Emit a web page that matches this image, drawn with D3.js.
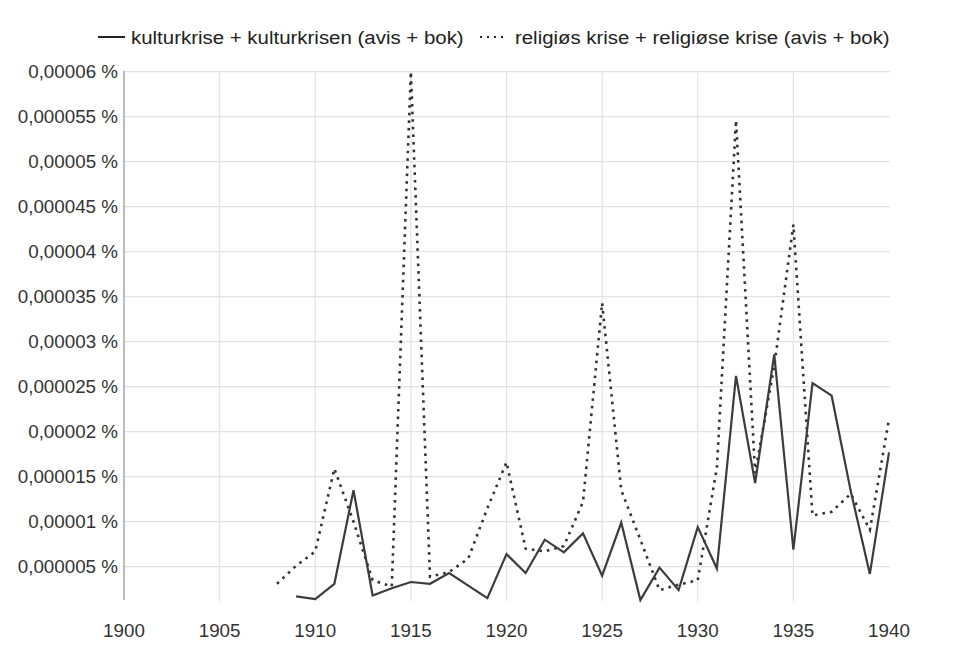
<!DOCTYPE html>
<html>
<head>
<meta charset="utf-8">
<script src="https://cdn.jsdelivr.net/npm/d3@7"></script>
<style>
  html, body { margin: 0; padding: 0; background: #fff; }
  svg { display: block; font-family: "Liberation Sans", Arial, Helvetica, sans-serif; }
</style>
</head>
<body>
<svg id="chart" width="960" height="656"></svg>
<script>
// ---- data (values in percent) ----
const kulturYears = d3.range(1909, 1941);
const kulturValues = [
  0.0000017, 0.0000014, 0.0000031, 0.0000135, 0.0000018, 0.0000026, 0.0000033, 0.0000031,
  0.0000043, 0.0000029, 0.0000015, 0.0000064, 0.0000043, 0.0000080, 0.0000066, 0.0000087,
  0.0000040, 0.0000099, 0.0000013, 0.0000049, 0.0000024, 0.0000094, 0.0000048, 0.0000262,
  0.0000143, 0.0000286, 0.0000069, 0.0000254, 0.0000240, 0.0000134, 0.0000042, 0.0000177
];
const religiosYears = d3.range(1908, 1941);
const religiosValues = [
  0.0000031, 0.0000051, 0.0000067, 0.0000159, 0.0000100, 0.0000035, 0.0000028, 0.0000600,
  0.0000039, 0.0000044, 0.0000059, 0.0000115, 0.0000166, 0.0000070, 0.0000067, 0.0000073,
  0.0000122, 0.0000343, 0.0000135, 0.0000080, 0.0000024, 0.0000030, 0.0000035, 0.0000160,
  0.0000546, 0.0000154, 0.0000273, 0.0000430, 0.0000107, 0.0000111, 0.0000131, 0.0000091,
  0.0000214
];
const seriesNames = [
  "kulturkrise + kulturkrisen (avis + bok)",
  "religiøs krise + religiøse krise (avis + bok)"
];
const xTicks = [1900, 1905, 1910, 1915, 1920, 1925, 1930, 1935, 1940];
const yTicks = [0.000005, 0.00001, 0.000015, 0.00002, 0.000025, 0.00003,
                0.000035, 0.00004, 0.000045, 0.00005, 0.000055, 0.00006];

// ---- layout ----
const svg = d3.select("#chart");
const mLeft = 124, mRight = 889, mTop = 71.7, mBottom = 600;
const x = d3.scaleLinear().domain([1900, 1940]).range([mLeft, mRight]);
const y = d3.scaleLinear().domain([0, 0.00006]).range([611.7, mTop]);

const loc = d3.formatLocale({decimal: ",", thousands: " ", grouping: [3], currency: ["", ""]});
const fmt = v => loc.format(".6~f")(v) + " %";

// horizontal gridlines
svg.append("g").selectAll("line").data(yTicks).join("line")
  .attr("x1", mLeft).attr("x2", mRight + 1)
  .attr("y1", d => y(d)).attr("y2", d => y(d))
  .attr("stroke", "#e2e2e2").attr("stroke-width", 1.2);

// vertical gridlines (not on 1900 / 1940)
svg.append("g").selectAll("line").data(xTicks.filter(t => t > 1900 && t < 1940)).join("line")
  .attr("x1", d => x(d)).attr("x2", d => x(d))
  .attr("y1", mTop).attr("y2", mBottom + 1)
  .attr("stroke", "#e2e2e2").attr("stroke-width", 1.2);

// y axis line
svg.append("line").attr("x1", mLeft).attr("x2", mLeft).attr("y1", mTop - 1).attr("y2", mBottom)
  .attr("stroke", "#9a9a9a").attr("stroke-width", 1.3);

// y labels
svg.append("g").selectAll("text").data(yTicks).join("text")
  .attr("x", mLeft - 6).attr("y", d => y(d)).attr("dy", "0.35em")
  .attr("text-anchor", "end").attr("font-size", 18.8).attr("fill", "#333")
  .text(fmt);

// x labels
svg.append("g").selectAll("text").data(xTicks).join("text")
  .attr("x", d => x(d)).attr("y", 630).attr("dy", "0.35em")
  .attr("text-anchor", "middle").attr("font-size", 18.8).attr("fill", "#333")
  .text(d => d);

// lines
const line = d3.line().x(d => x(d[0])).y(d => y(d[1]));
const kulturData = kulturYears.map((yr, i) => [yr, kulturValues[i]]);
const religiosData = religiosYears.map((yr, i) => [yr, religiosValues[i]]);

svg.append("path").datum(religiosData).attr("d", line)
  .attr("fill", "none").attr("stroke", "#333").attr("stroke-width", 2.6)
  .attr("stroke-dasharray", "2.6,5");
svg.append("path").datum(kulturData).attr("d", line)
  .attr("fill", "none").attr("stroke", "#3c3c3c").attr("stroke-width", 2.2)
  .attr("stroke-linejoin", "miter");

// legend
const lg = svg.append("g");
const ly = 37;
function fitText(g, str, x0, targetW) {
  const t = g.append("text").attr("x", 0).attr("y", 0).attr("dy", "0.35em")
    .attr("font-size", 19).attr("fill", "#222").text(str);
  const w = t.node().getComputedTextLength();
  const s = targetW / w;
  t.attr("transform", `translate(${x0},${ly}) scale(${s},1)`);
  return targetW;
}
lg.append("line").attr("x1", 98).attr("x2", 125).attr("y1", ly).attr("y2", ly)
  .attr("stroke", "#222").attr("stroke-width", 2);
const w1 = fitText(lg, seriesNames[0], 131, 333);
const sx = 131 + w1 + 16;
lg.append("line").attr("x1", sx).attr("x2", sx + 28).attr("y1", ly).attr("y2", ly)
  .attr("stroke", "#222").attr("stroke-width", 2).attr("stroke-dasharray", "2,5");
fitText(lg, seriesNames[1], sx + 35, 375);
</script>
</body>
</html>
